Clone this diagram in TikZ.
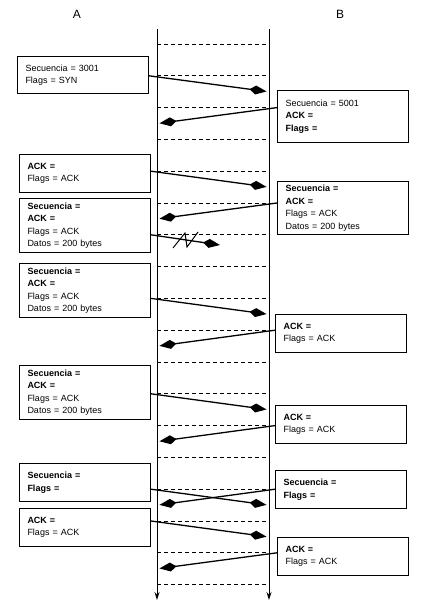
\documentclass[tikz,border=0pt]{standalone}
\usepackage{fontspec}
\setmainfont{Liberation Sans}
\usepackage{tikz}
\usetikzlibrary{arrows.meta}
\tikzstyle{pkt} = [rectangle, draw=black, line width=1pt, anchor=north west, align=left, text width=115pt, inner xsep=8pt, inner ysep=2pt, font=\fontsize{9}{12.5}\selectfont]
\tikzstyle{msg} = [line width=1.3pt, -{Kite[length=17pt, width=9pt, inset=6pt]}, shorten >=2.5pt]
\tikzstyle{life} = [line width=1pt, -{Stealth[length=8pt, width=5pt]}]
\tikzstyle{tick} = [line width=0.8pt, dash pattern=on 4pt off 3pt]

\begin{document}
\begin{tikzpicture}[x=1pt, y=-1pt]
\useasboundingbox (0,0) rectangle (438,604);
\node (labA) at (77,14) {\fontsize{12}{14}\selectfont A};
\node (labB) at (340,14) {\fontsize{12}{14}\selectfont B};
% time lines
\coordinate (atop) at (157,29);
\coordinate (abot) at (157,600);
\coordinate (btop) at (269,29);
\coordinate (bbot) at (269,600);
\draw [life] (atop) -- (abot);
\draw [life] (btop) -- (bbot);
\foreach \i in {1,...,18} {
  \pgfmathsetmacro\ty{44+(\i-1)*31.8}
  \coordinate (la\i) at (157,\ty);
  \coordinate (ra\i) at (269,\ty);
  \coordinate (lb\i) at (157,\ty+16);
  \coordinate (rb\i) at (269,\ty+16);
  \draw [tick] (la\i) -- (ra\i);
}
% segments
\node (a1) [pkt, minimum height=37pt] at (17,56) {Secuencia = 3001\\Flags = SYN};
\node (b1) [pkt, minimum height=52pt] at (277,90) {Secuencia = 5001\\\textbf{ACK =}\\\textbf{Flags =}};
\node (a2) [pkt, minimum height=38pt] at (19,154) {\textbf{ACK =}\\Flags = ACK};
\node (b2) [pkt, minimum height=53pt] at (277,181) {\textbf{Secuencia =}\\\textbf{ACK =}\\Flags = ACK\\Datos = 200 bytes};
\node (a3) [pkt, minimum height=54pt] at (19,198) {\textbf{Secuencia =}\\\textbf{ACK =}\\Flags = ACK\\Datos = 200 bytes};
\node (a4) [pkt, minimum height=54pt] at (19,263) {\textbf{Secuencia =}\\\textbf{ACK =}\\Flags = ACK\\Datos = 200 bytes};
\node (b3) [pkt, minimum height=38pt] at (275,314) {\textbf{ACK =}\\Flags = ACK};
\node (a5) [pkt, minimum height=54pt] at (19,365) {\textbf{Secuencia =}\\\textbf{ACK =}\\Flags = ACK\\Datos = 200 bytes};
\node (b4) [pkt, minimum height=38pt] at (275,405) {\textbf{ACK =}\\Flags = ACK};
\node (a6) [pkt, minimum height=38pt] at (19,463) {\textbf{Secuencia =}\\\textbf{Flags =}};
\node (b5) [pkt, minimum height=38pt] at (275,470) {\textbf{Secuencia =}\\\textbf{Flags =}};
\node (a7) [pkt, minimum height=38pt] at (19,508) {\textbf{ACK =}\\Flags = ACK};
\node (b6) [pkt, minimum height=38pt] at (277,537) {\textbf{ACK =}\\Flags = ACK};
% messages
\draw [msg] (a1.east |- la2) -- (rb2);
\draw [msg] (b1.west |- ra3) -- (lb3);
\draw [msg] (a2.east |- la5) -- (rb5);
\draw [msg] (b2.west |- ra6) -- (lb6);
\coordinate (lost) at (220,245);
\draw [msg, shorten >=0pt] (a3.east |- la7) -- (lost);
\draw [line width=1pt] (173,248) -- (185,233) -- (187,247) -- (198,232);
\draw [msg] (a4.east |- la9) -- (rb9);
\draw [msg] (b3.west |- ra10) -- (lb10);
\draw [msg] (a5.east |- la12) -- (rb12);
\draw [msg] (b4.west |- ra13) -- (lb13);
\draw [msg] (a6.east |- la15) -- (rb15);
\draw [msg] (b5.west |- ra15) -- (lb15);
\draw [msg] (a7.east |- la16) -- (rb16);
\draw [msg] (b6.west |- ra17) -- (lb17);
\end{tikzpicture}
\end{document}
